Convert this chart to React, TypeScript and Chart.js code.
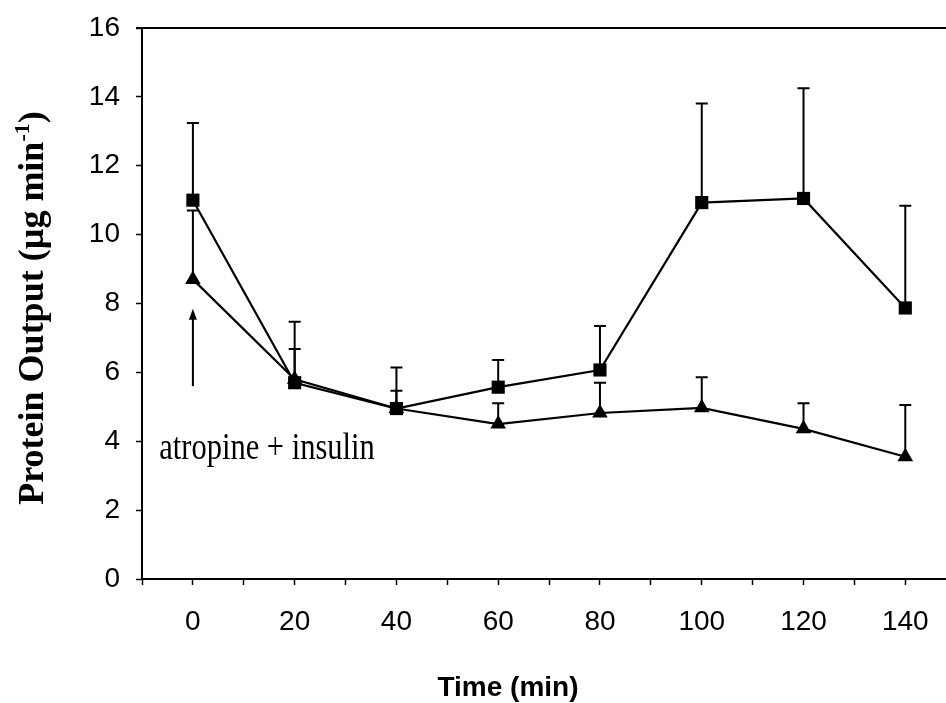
import React, { useEffect, useRef } from 'react';
import { Chart, registerables } from 'chart.js';

Chart.register(...registerables);

// ---- data ----
const timePoints = [0, 20, 40, 60, 80, 100, 120, 140];
const squareMeans = [11.0, 5.7, 4.95, 5.57, 6.07, 10.93, 11.05, 7.87];
const squareErrors = [2.24, 1.77, 1.19, 0.79, 1.28, 2.88, 3.2, 2.97];
const triangleMeans = [8.7, 5.8, 4.95, 4.5, 4.82, 4.97, 4.36, 3.55];
const triangleErrors = [2.0, 0.88, 0.52, 0.6, 0.88, 0.89, 0.74, 1.5];
const xTickValues = [-10, 0, 10, 20, 30, 40, 50, 60, 70, 80, 90, 100, 110, 120, 130, 140];
const yTickValues = [0, 2, 4, 6, 8, 10, 12, 14, 16];
const xAxisTitle = 'Time (min)';
const yAxisTitleMain = 'Protein Output (\u00b5g min';
const yAxisTitleSup = '-1';
const yAxisTitleEnd = ')';
const annotationText = 'atropine + insulin';
const arrowTime = 0;
const arrowFrom = 5.6;
const arrowTo = 7.85;
const annotationTime = -6.6;
const annotationValue = 3.48;

const decorPlugin = {
  id: 'decor',
  beforeDatasetsDraw(chart: any) {
    const { ctx, scales } = chart;
    const x = scales.x;
    const y = scales.y;
    ctx.save();
    ctx.strokeStyle = '#000';
    ctx.lineWidth = 2;
    const sets: [number[], number[]][] = [
      [squareMeans, squareErrors],
      [triangleMeans, triangleErrors],
    ];
    for (const [m, e] of sets) {
      for (let i = 0; i < timePoints.length; i++) {
        const px = x.getPixelForValue(timePoints[i]);
        const y0 = y.getPixelForValue(m[i]);
        const y1 = y.getPixelForValue(m[i] + e[i]);
        ctx.beginPath();
        ctx.moveTo(px, y0);
        ctx.lineTo(px, y1);
        ctx.moveTo(px - 6, y1);
        ctx.lineTo(px + 6, y1);
        ctx.stroke();
      }
    }
    ctx.restore();
  },
  afterDraw(chart: any) {
    const { ctx, scales, chartArea } = chart;
    const x = scales.x;
    const y = scales.y;
    ctx.save();
    ctx.strokeStyle = '#000';
    ctx.fillStyle = '#000';
    ctx.lineWidth = 2;
    // top frame line
    ctx.beginPath();
    ctx.moveTo(chartArea.left - 6, chartArea.top);
    ctx.lineTo(chartArea.right, chartArea.top);
    ctx.stroke();

    // arrow
    const ax = x.getPixelForValue(arrowTime);
    const ay0 = y.getPixelForValue(arrowFrom);
    const ay1 = y.getPixelForValue(arrowTo);
    ctx.beginPath();
    ctx.moveTo(ax, ay0);
    ctx.lineTo(ax, ay1 + 8);
    ctx.stroke();
    ctx.beginPath();
    ctx.moveTo(ax, ay1);
    ctx.lineTo(ax - 4, ay1 + 11);
    ctx.lineTo(ax + 4, ay1 + 11);
    ctx.closePath();
    ctx.fill();

    // annotation text
    const tx = x.getPixelForValue(annotationTime);
    const ty = y.getPixelForValue(annotationValue);
    ctx.save();
    ctx.translate(tx, ty);
    ctx.scale(1, 1.25);
    ctx.font = '30.5px "Liberation Serif", "Times New Roman", serif';
    ctx.textAlign = 'left';
    ctx.textBaseline = 'alphabetic';
    ctx.fillText(annotationText, 0, 0);
    ctx.restore();

    // x title
    ctx.font = 'bold 28px "Liberation Sans", Arial, sans-serif';
    ctx.textAlign = 'center';
    ctx.textBaseline = 'alphabetic';
    ctx.fillText(xAxisTitle, 508, 696);

    // y title
    ctx.save();
    ctx.translate(43, 308);
    ctx.rotate(-Math.PI / 2);
    const mainFont = 'bold 36px "Liberation Serif", "Times New Roman", serif';
    const supFont = 'bold 22px "Liberation Serif", "Times New Roman", serif';
    ctx.font = mainFont;
    const w1 = ctx.measureText(yAxisTitleMain).width;
    const w3 = ctx.measureText(yAxisTitleEnd).width;
    ctx.font = supFont;
    const w2 = ctx.measureText(yAxisTitleSup).width;
    const total = w1 + w2 + w3;
    let cx = -total / 2;
    ctx.textAlign = 'left';
    ctx.textBaseline = 'alphabetic';
    ctx.font = mainFont;
    ctx.fillText(yAxisTitleMain, cx, 0);
    cx += w1;
    ctx.font = supFont;
    ctx.fillText(yAxisTitleSup, cx, -14);
    cx += w2;
    ctx.font = mainFont;
    ctx.fillText(yAxisTitleEnd, cx, 0);
    ctx.restore();

    ctx.restore();
  },
};

export default function App() {
  const ref = useRef<HTMLCanvasElement | null>(null);
  useEffect(() => {
    document.body.style.margin = '0';
    document.body.style.overflow = 'hidden';
    const canvas = ref.current;
    if (!canvas) return;
    const chart = new Chart(canvas, {
      type: 'line',
      data: {
        datasets: [
          {
            label: 'square',
            data: timePoints.map((t, i) => ({ x: t, y: squareMeans[i] })),
            borderColor: '#000',
            backgroundColor: '#000',
            borderWidth: 2.2,
            pointStyle: 'rect',
            pointRadius: 9.3,
            pointBorderWidth: 0,
            pointBackgroundColor: '#000',
            tension: 0,
          },
          {
            label: 'triangle',
            data: timePoints.map((t, i) => ({ x: t, y: triangleMeans[i] })),
            borderColor: '#000',
            backgroundColor: '#000',
            borderWidth: 2.2,
            pointStyle: 'triangle',
            pointRadius: 9,
            pointBorderWidth: 0,
            pointBackgroundColor: '#000',
            tension: 0,
          },
        ],
      },
      options: {
        responsive: false,
        animation: false,
        layout: { autoPadding: false, padding: { top: 28, left: 0, right: 0, bottom: 0 } },
        plugins: {
          legend: { display: false },
          tooltip: { enabled: false },
        },
        scales: {
          x: {
            type: 'linear',
            min: -10,
            max: 148,
            afterBuildTicks: (scale: any) => {
              scale.ticks = xTickValues.map((v) => ({ value: v }));
            },
            afterFit: (scale: any) => {
              scale.height = 124;
              scale.paddingLeft = 0;
              scale.paddingRight = 0;
            },
            ticks: {
              autoSkip: false,
              maxRotation: 0,
              color: '#000',
              padding: 20,
              font: { family: '"Liberation Sans", Arial, sans-serif', size: 28 },
              callback: (v: any) => (Number(v) >= 0 && Number(v) % 20 === 0 ? String(v) : ''),
            },
            grid: {
              drawOnChartArea: false,
              drawTicks: true,
              tickLength: 6,
              tickWidth: 1.5,
              color: '#000',
            },
            border: { display: true, color: '#000', width: 2 },
          },
          y: {
            type: 'linear',
            min: 0,
            max: 16,
            afterBuildTicks: (scale: any) => {
              scale.ticks = yTickValues.map((v) => ({ value: v }));
            },
            afterFit: (scale: any) => {
              scale.width = 142;
              scale.paddingTop = 0;
              scale.paddingBottom = 0;
            },
            ticks: {
              color: '#000',
              padding: 16,
              font: { family: '"Liberation Sans", Arial, sans-serif', size: 28 },
            },
            grid: {
              drawOnChartArea: false,
              drawTicks: true,
              tickLength: 6,
              tickWidth: 1.5,
              color: '#000',
            },
            border: { display: true, color: '#000', width: 2 },
          },
        },
      },
      plugins: [decorPlugin],
    } as any);
    return () => chart.destroy();
  }, []);
  return (
    <div style={{ width: 946, height: 703, background: '#fff' }}>
      <canvas ref={ref} width={946} height={703} style={{ display: 'block' }} />
    </div>
  );
}
